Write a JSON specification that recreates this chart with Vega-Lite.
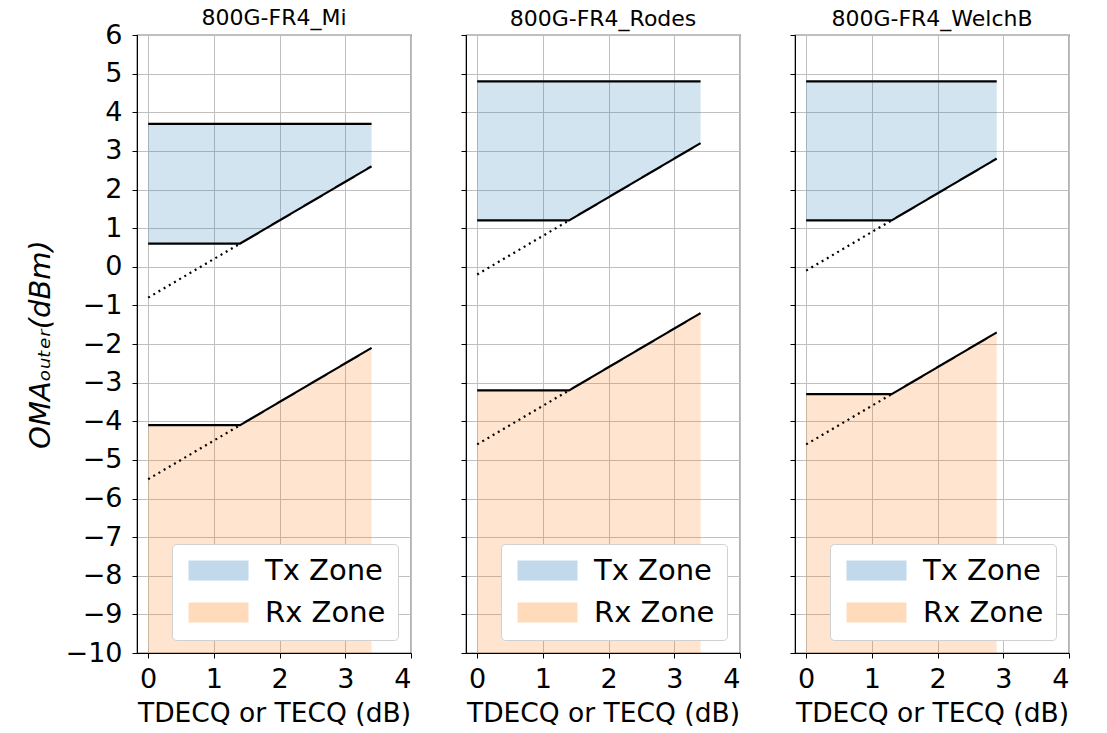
{
  "$schema": "https://vega.github.io/schema/vega-lite/v6.json",
  "autosize": {"type": "none"},
  "padding": {"left": 137, "top": 35, "right": 970, "bottom": 698},
  "background": "white",
  "config": {
    "font": "DejaVu Sans",
    "view": {"stroke": "black", "strokeWidth": 1.2},
    "axis": {
      "labelFont": "DejaVu Sans",
      "titleFont": "DejaVu Sans",
      "labelFontSize": 27,
      "titleFontSize": 26.5,
      "labelColor": "black",
      "titleColor": "black",
      "titleFontWeight": "normal",
      "tickColor": "black",
      "domainColor": "black",
      "tickSize": 5,
      "gridColor": "#c0c0c0",
      "gridWidth": 1
    },
    "axisX": {"labelPadding": 8, "titlePadding": 8},
    "axisY": {"labelPadding": 10},
    "legend": {
      "labelFont": "DejaVu Sans",
      "labelFontSize": 29,
      "labelColor": "black",
      "orient": "bottom-right",
      "offset": 13,
      "symbolType": "M-3,-1L3,-1L3,1L-3,1Z",
      "symbolSize": 400,
      "symbolOffset": 20,
      "symbolOpacity": 0.28,
      "symbolStrokeWidth": 0,
      "labelOffset": 32,
      "fillColor": "white",
      "strokeColor": "#d0d0d0",
      "cornerRadius": 4,
      "padding": 12,
      "rowPadding": 12
    },
    "title": {"font": "DejaVu Sans", "fontSize": 22, "fontWeight": "normal", "color": "black", "offset": 4}
  },
  "datasets": {
    "zones": [
      {"panel": "Mi", "zone": "Tx Zone", "x": 0, "y": 3.7, "y2": 0.6},
      {"panel": "Mi", "zone": "Tx Zone", "x": 1.4, "y": 3.7, "y2": 0.6},
      {"panel": "Mi", "zone": "Tx Zone", "x": 3.4, "y": 3.7, "y2": 2.6},
      {"panel": "Mi", "zone": "Rx Zone", "x": 0, "y": -4.1, "y2": -10},
      {"panel": "Mi", "zone": "Rx Zone", "x": 1.4, "y": -4.1, "y2": -10},
      {"panel": "Mi", "zone": "Rx Zone", "x": 3.4, "y": -2.1, "y2": -10},
      {"panel": "Rodes", "zone": "Tx Zone", "x": 0, "y": 4.8, "y2": 1.2},
      {"panel": "Rodes", "zone": "Tx Zone", "x": 1.4, "y": 4.8, "y2": 1.2},
      {"panel": "Rodes", "zone": "Tx Zone", "x": 3.4, "y": 4.8, "y2": 3.2},
      {"panel": "Rodes", "zone": "Rx Zone", "x": 0, "y": -3.2, "y2": -10},
      {"panel": "Rodes", "zone": "Rx Zone", "x": 1.4, "y": -3.2, "y2": -10},
      {"panel": "Rodes", "zone": "Rx Zone", "x": 3.4, "y": -1.2, "y2": -10},
      {"panel": "WelchB", "zone": "Tx Zone", "x": 0, "y": 4.8, "y2": 1.2},
      {"panel": "WelchB", "zone": "Tx Zone", "x": 1.3, "y": 4.8, "y2": 1.2},
      {"panel": "WelchB", "zone": "Tx Zone", "x": 2.9, "y": 4.8, "y2": 2.8},
      {"panel": "WelchB", "zone": "Rx Zone", "x": 0, "y": -3.3, "y2": -10},
      {"panel": "WelchB", "zone": "Rx Zone", "x": 1.3, "y": -3.3, "y2": -10},
      {"panel": "WelchB", "zone": "Rx Zone", "x": 2.9, "y": -1.7, "y2": -10}
    ],
    "lines": [
      {"panel": "Mi", "series": "tx_max", "style": "solid", "x": 0, "y": 3.7},
      {"panel": "Mi", "series": "tx_max", "style": "solid", "x": 3.4, "y": 3.7},
      {"panel": "Mi", "series": "tx_min", "style": "solid", "x": 0, "y": 0.6},
      {"panel": "Mi", "series": "tx_min", "style": "solid", "x": 1.4, "y": 0.6},
      {"panel": "Mi", "series": "tx_min", "style": "solid", "x": 3.4, "y": 2.6},
      {"panel": "Mi", "series": "tx_slope", "style": "dotted", "x": 0, "y": -0.8},
      {"panel": "Mi", "series": "tx_slope", "style": "dotted", "x": 1.4, "y": 0.6},
      {"panel": "Mi", "series": "rx_sens", "style": "solid", "x": 0, "y": -4.1},
      {"panel": "Mi", "series": "rx_sens", "style": "solid", "x": 1.4, "y": -4.1},
      {"panel": "Mi", "series": "rx_sens", "style": "solid", "x": 3.4, "y": -2.1},
      {"panel": "Mi", "series": "rx_slope", "style": "dotted", "x": 0, "y": -5.5},
      {"panel": "Mi", "series": "rx_slope", "style": "dotted", "x": 1.4, "y": -4.1},
      {"panel": "Rodes", "series": "tx_max", "style": "solid", "x": 0, "y": 4.8},
      {"panel": "Rodes", "series": "tx_max", "style": "solid", "x": 3.4, "y": 4.8},
      {"panel": "Rodes", "series": "tx_min", "style": "solid", "x": 0, "y": 1.2},
      {"panel": "Rodes", "series": "tx_min", "style": "solid", "x": 1.4, "y": 1.2},
      {"panel": "Rodes", "series": "tx_min", "style": "solid", "x": 3.4, "y": 3.2},
      {"panel": "Rodes", "series": "tx_slope", "style": "dotted", "x": 0, "y": -0.2},
      {"panel": "Rodes", "series": "tx_slope", "style": "dotted", "x": 1.4, "y": 1.2},
      {"panel": "Rodes", "series": "rx_sens", "style": "solid", "x": 0, "y": -3.2},
      {"panel": "Rodes", "series": "rx_sens", "style": "solid", "x": 1.4, "y": -3.2},
      {"panel": "Rodes", "series": "rx_sens", "style": "solid", "x": 3.4, "y": -1.2},
      {"panel": "Rodes", "series": "rx_slope", "style": "dotted", "x": 0, "y": -4.6},
      {"panel": "Rodes", "series": "rx_slope", "style": "dotted", "x": 1.4, "y": -3.2},
      {"panel": "WelchB", "series": "tx_max", "style": "solid", "x": 0, "y": 4.8},
      {"panel": "WelchB", "series": "tx_max", "style": "solid", "x": 2.9, "y": 4.8},
      {"panel": "WelchB", "series": "tx_min", "style": "solid", "x": 0, "y": 1.2},
      {"panel": "WelchB", "series": "tx_min", "style": "solid", "x": 1.3, "y": 1.2},
      {"panel": "WelchB", "series": "tx_min", "style": "solid", "x": 2.9, "y": 2.8},
      {"panel": "WelchB", "series": "tx_slope", "style": "dotted", "x": 0, "y": -0.1},
      {"panel": "WelchB", "series": "tx_slope", "style": "dotted", "x": 1.3, "y": 1.2},
      {"panel": "WelchB", "series": "rx_sens", "style": "solid", "x": 0, "y": -3.3},
      {"panel": "WelchB", "series": "rx_sens", "style": "solid", "x": 1.3, "y": -3.3},
      {"panel": "WelchB", "series": "rx_sens", "style": "solid", "x": 2.9, "y": -1.7},
      {"panel": "WelchB", "series": "rx_slope", "style": "dotted", "x": 0, "y": -4.6},
      {"panel": "WelchB", "series": "rx_slope", "style": "dotted", "x": 1.3, "y": -3.3}
    ]
  },
  "hconcat": [
    {
      "title": {"text": "800G-FR4_Mi", "offset": -9},
      "width": 274,
      "height": 618,
      "encoding": {
        "x": {"field": "x", "type": "quantitative", "scale": {"domain": [-0.17, 4], "nice": false, "zero": false}, "axis": {"values": [0, 1, 2, 3, 4], "format": "d", "title": "TDECQ or TECQ (dB)"}},
        "y": {"field": "y", "type": "quantitative", "scale": {"domain": [-10, 6], "nice": false}, "axis": {"values": [-10, -9, -8, -7, -6, -5, -4, -3, -2, -1, 0, 1, 2, 3, 4, 5, 6], "format": "d", "title": "OMAₒᵤₜₑᵣ(dBm)", "titleFontStyle": "italic", "titleFontSize": 29, "titlePadding": 10}}
      },
      "layer": [
        {
          "data": {"name": "zones"},
          "transform": [{"filter": "datum.panel === 'Mi'"}],
          "mark": {"type": "area", "fillOpacity": 0.2},
          "encoding": {
            "y2": {"field": "y2"},
            "fill": {"field": "zone", "type": "nominal", "scale": {"domain": ["Tx Zone", "Rx Zone"], "range": ["#1f77b4", "#ff7f0e"]}, "legend": {"title": null}}
          }
        },
        {
          "data": {"name": "lines"},
          "transform": [{"filter": "datum.panel === 'Mi'"}],
          "mark": {"type": "line", "color": "black", "strokeWidth": 2.2},
          "encoding": {
            "detail": {"field": "series"},
            "strokeDash": {"field": "style", "type": "nominal", "scale": {"domain": ["solid", "dotted"], "range": [[1, 0], [2, 4]]}, "legend": null}
          }
        }
      ]
    },
    {
      "title": "800G-FR4_Rodes",
      "width": 274,
      "height": 618,
      "encoding": {
        "x": {"field": "x", "type": "quantitative", "scale": {"domain": [-0.17, 4], "nice": false, "zero": false}, "axis": {"values": [0, 1, 2, 3, 4], "format": "d", "title": "TDECQ or TECQ (dB)"}},
        "y": {"field": "y", "type": "quantitative", "scale": {"domain": [-10, 6], "nice": false}, "axis": {"values": [-10, -9, -8, -7, -6, -5, -4, -3, -2, -1, 0, 1, 2, 3, 4, 5, 6], "labels": false, "title": null}}
      },
      "layer": [
        {
          "data": {"name": "zones"},
          "transform": [{"filter": "datum.panel === 'Rodes'"}],
          "mark": {"type": "area", "fillOpacity": 0.2},
          "encoding": {
            "y2": {"field": "y2"},
            "fill": {"field": "zone", "type": "nominal", "scale": {"domain": ["Tx Zone", "Rx Zone"], "range": ["#1f77b4", "#ff7f0e"]}, "legend": {"title": null}}
          }
        },
        {
          "data": {"name": "lines"},
          "transform": [{"filter": "datum.panel === 'Rodes'"}],
          "mark": {"type": "line", "color": "black", "strokeWidth": 2.2},
          "encoding": {
            "detail": {"field": "series"},
            "strokeDash": {"field": "style", "type": "nominal", "scale": {"domain": ["solid", "dotted"], "range": [[1, 0], [2, 4]]}, "legend": null}
          }
        }
      ]
    },
    {
      "title": "800G-FR4_WelchB",
      "width": 274,
      "height": 618,
      "encoding": {
        "x": {"field": "x", "type": "quantitative", "scale": {"domain": [-0.17, 4], "nice": false, "zero": false}, "axis": {"values": [0, 1, 2, 3, 4], "format": "d", "title": "TDECQ or TECQ (dB)"}},
        "y": {"field": "y", "type": "quantitative", "scale": {"domain": [-10, 6], "nice": false}, "axis": {"values": [-10, -9, -8, -7, -6, -5, -4, -3, -2, -1, 0, 1, 2, 3, 4, 5, 6], "labels": false, "title": null}}
      },
      "layer": [
        {
          "data": {"name": "zones"},
          "transform": [{"filter": "datum.panel === 'WelchB'"}],
          "mark": {"type": "area", "fillOpacity": 0.2},
          "encoding": {
            "y2": {"field": "y2"},
            "fill": {"field": "zone", "type": "nominal", "scale": {"domain": ["Tx Zone", "Rx Zone"], "range": ["#1f77b4", "#ff7f0e"]}, "legend": {"title": null}}
          }
        },
        {
          "data": {"name": "lines"},
          "transform": [{"filter": "datum.panel === 'WelchB'"}],
          "mark": {"type": "line", "color": "black", "strokeWidth": 2.2},
          "encoding": {
            "detail": {"field": "series"},
            "strokeDash": {"field": "style", "type": "nominal", "scale": {"domain": ["solid", "dotted"], "range": [[1, 0], [2, 4]]}, "legend": null}
          }
        }
      ]
    }
  ],
  "spacing": 55,
  "bounds": "flush",
  "resolve": {"scale": {"fill": "independent"}, "legend": {"fill": "independent"}}
}
